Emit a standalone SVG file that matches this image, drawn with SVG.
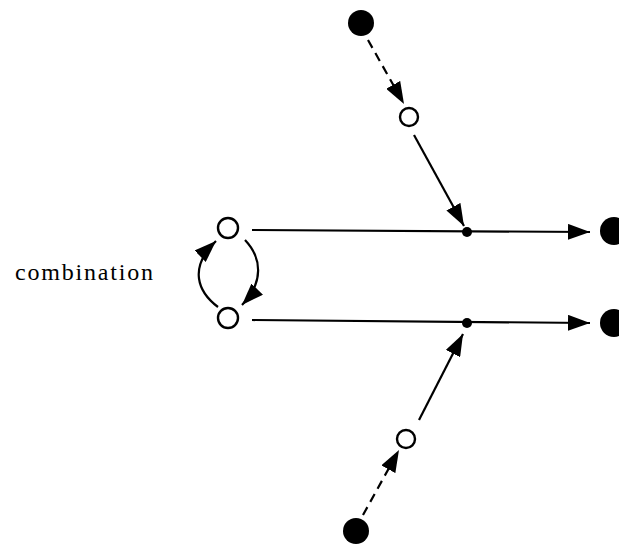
<svg xmlns="http://www.w3.org/2000/svg" width="619" height="544" viewBox="0 0 619 544">
  <style>
    .line { stroke: #000; stroke-width: 2.2; fill: none; }
    .dash { stroke-dasharray: 9 6; }
    .open { fill: #fff; stroke: #000; stroke-width: 2.4; }
    .solid { fill: #000; }
    .label { font-family: "Liberation Serif", "DejaVu Serif", serif; font-size: 24px; fill: #000; }
  </style>
  <defs>
    <marker id="arrow" viewBox="0 0 22 16" refX="22" refY="8" markerWidth="22" markerHeight="16" markerUnits="userSpaceOnUse" orient="auto">
      <path d="M0,0 L22,8 L0,16 Z" fill="#000"/>
    </marker>
  </defs>

  <rect width="619" height="544" fill="#fff"/>

  <g id="connectors">
    <line class="line dash" x1="368" y1="40" x2="404" y2="104" marker-end="url(#arrow)"/>
    <line class="line" x1="414" y1="135" x2="464" y2="226" marker-end="url(#arrow)"/>
    <line class="line" x1="252" y1="230" x2="590" y2="232" marker-end="url(#arrow)"/>
    <line class="line" x1="252" y1="320" x2="590" y2="323" marker-end="url(#arrow)"/>
    <line class="line dash" x1="363" y1="515" x2="399" y2="450" marker-end="url(#arrow)"/>
    <line class="line" x1="419" y1="420" x2="463" y2="334" marker-end="url(#arrow)"/>
    <path class="line" d="M218,307 C198,292 188,268 216,241" marker-end="url(#arrow)"/>
    <path class="line" d="M245,240 C262,258 264,282 242,305" marker-end="url(#arrow)"/>
  </g>

  <g id="source-top"><circle class="solid" cx="361" cy="23" r="13"/></g>
  <g id="relay-top"><circle class="open" cx="409" cy="117" r="9"/></g>
  <g id="state-a"><circle class="open" cx="228" cy="228" r="10"/></g>
  <g id="state-b"><circle class="open" cx="228" cy="318" r="10"/></g>
  <g id="join-a"><circle class="solid" cx="467" cy="232" r="5"/></g>
  <g id="join-b"><circle class="solid" cx="467" cy="323" r="5"/></g>
  <g id="sink-a"><circle class="solid" cx="614" cy="231" r="14"/></g>
  <g id="sink-b"><circle class="solid" cx="614" cy="323" r="14"/></g>
  <g id="relay-bottom"><circle class="open" cx="406" cy="439" r="9"/></g>
  <g id="source-bottom"><circle class="solid" cx="356" cy="531" r="13"/></g>

  <g id="label-combination">
    <text class="label" x="15" y="280" textLength="138" lengthAdjust="spacing">combination</text>
  </g>
</svg>
